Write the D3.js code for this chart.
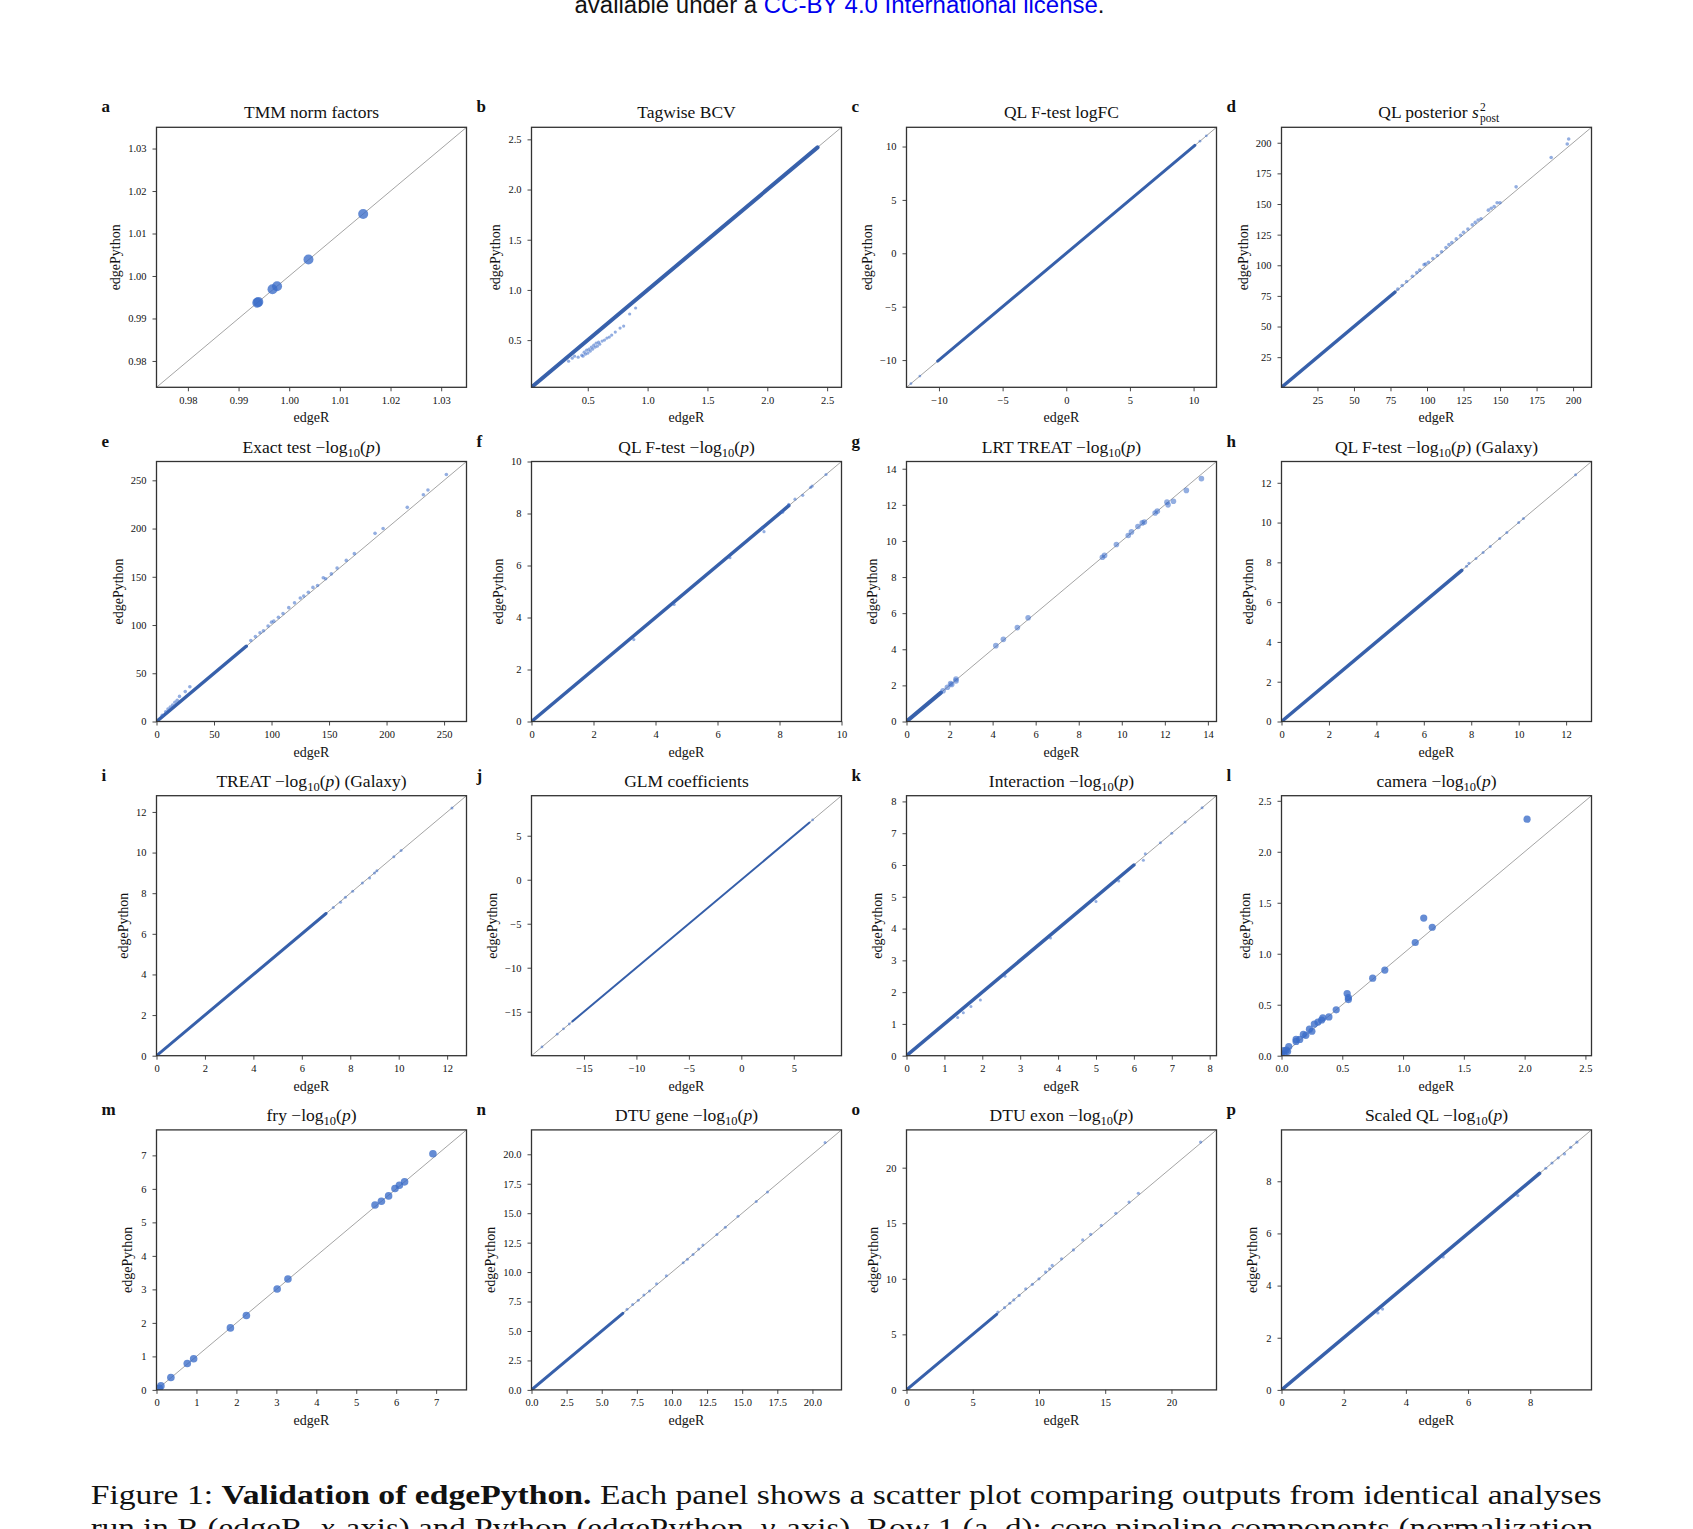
<!DOCTYPE html>
<html>
<head>
<meta charset="utf-8">
<script src="https://cdn.jsdelivr.net/npm/d3@7"></script>
<style>
  body { margin: 0; background: #fff; }
  svg text { font-family: "Liberation Serif", "DejaVu Serif", serif; fill: #111; }
</style>
</head>
<body>
<div id="fig"></div>
<script>
// --- DONNÉES ---
const panelLetters = "abcdefghijklmnop".split("");

const panelTitles = [
  "TMM norm factors", "Tagwise BCV", "QL F-test logFC", "QL posterior s_post^2",
  "Exact test −log10(p)", "QL F-test −log10(p)", "LRT TREAT −log10(p)", "QL F-test −log10(p) (Galaxy)",
  "TREAT −log10(p) (Galaxy)", "GLM coefficients", "Interaction −log10(p)", "camera −log10(p)",
  "fry −log10(p)", "DTU gene −log10(p)", "DTU exon −log10(p)", "Scaled QL −log10(p)"
];

// même domaine pour x et y (diagonale coin à coin)
const axisDomains = [
  [0.9738, 1.0350], [0.03, 2.62], [-12.55, 11.8], [0.4, 212.6],
  [0, 269.5], [0, 10], [0, 14.4], [0, 13.07],
  [0, 12.8], [-20, 9.55], [0, 8.18], [0, 2.55],
  [0, 7.76], [0, 22.07], [0, 23.4], [0, 9.97]
];

const axisTicks = [
  [0.98, 0.99, 1.00, 1.01, 1.02, 1.03],
  [0.5, 1.0, 1.5, 2.0, 2.5],
  [-10, -5, 0, 5, 10],
  [25, 50, 75, 100, 125, 150, 175, 200],
  [0, 50, 100, 150, 200, 250],
  [0, 2, 4, 6, 8, 10],
  [0, 2, 4, 6, 8, 10, 12, 14],
  [0, 2, 4, 6, 8, 10, 12],
  [0, 2, 4, 6, 8, 10, 12],
  [-15, -10, -5, 0, 5],
  [0, 1, 2, 3, 4, 5, 6, 7, 8],
  [0.0, 0.5, 1.0, 1.5, 2.0, 2.5],
  [0, 1, 2, 3, 4, 5, 6, 7],
  [0.0, 2.5, 5.0, 7.5, 10.0, 12.5, 15.0, 17.5, 20.0],
  [0, 5, 10, 15, 20],
  [0, 2, 4, 6, 8]
];

const tickFormats = [".2f", ".1f", "d", "d", "d", "d", "d", "d", "d", "d", "d", ".1f", "d", ".1f", "d", "d"];

// nuage dense le long de y = x : [début, fin] (null = pas de nuage)
const denseBands = [
  null, [0.04, 2.42], [-10.1, 10.1], [0.5, 78],
  [0, 78], [0, 8.3], [0, 1.6], [0, 7.6],
  [0, 7.0], [-16.1, 6.5], [0, 6.0], null,
  null, [0, 6.5], [0, 6.8], [0, 8.3]
];

// points isolés [edgeR, edgePython]
const ptsA = [[0.9937, 0.9937], [0.9939, 0.9939], [0.9967, 0.9969], [0.9976, 0.9976], [1.0038, 1.0039], [1.0146, 1.0146]];
const ptsB = [[0.34, 0.29], [0.37, 0.32], [0.39, 0.34], [0.42, 0.33], [0.45, 0.35], [0.46, 0.34], [0.47, 0.38],
  [0.48, 0.36], [0.49, 0.40], [0.50, 0.37], [0.51, 0.41], [0.52, 0.39], [0.53, 0.43], [0.54, 0.41],
  [0.55, 0.45], [0.56, 0.43], [0.57, 0.47], [0.58, 0.44], [0.59, 0.48], [0.60, 0.46], [0.62, 0.49],
  [0.64, 0.50], [0.66, 0.52], [0.68, 0.53], [0.70, 0.55], [0.73, 0.58], [0.77, 0.62], [0.80, 0.64],
  [0.85, 0.76], [0.90, 0.82]];
const ptsC = [[-12.2, -12.2], [-11.5, -11.5], [10.5, 10.5], [11.0, 11.0]];
const ptsD = [[80, 80.5], [83, 83.5], [86, 86.8], [90, 91], [93, 94], [95, 96], [98, 100.5], [99, 101],
  [101, 102.5], [104, 105.5], [107, 108], [110, 111], [113, 114.5], [115, 117], [117, 118.5], [120, 121.5],
  [123, 124.5], [125, 127], [128, 129.5], [131, 133], [133, 135], [135, 137], [137, 138], [142, 145],
  [144, 146.5], [146, 148], [148, 151], [150, 151], [161, 164], [185, 188], [196, 199], [197, 203]];
const ptsE = [[5, 6.5], [8, 10], [10, 13], [12, 15], [14, 17], [16, 20], [18, 22], [20, 26], [25, 31], [29, 36],
  [82, 84], [86, 88], [90, 92], [93, 94], [97, 99], [100, 103], [102, 104], [106, 108], [110, 112],
  [115, 118], [120, 123], [125, 128], [128, 130], [132, 134], [136, 139], [140, 141], [145, 149],
  [147, 148], [152, 153], [157, 159], [165, 167], [172, 174], [190, 195], [197, 200], [218, 222],
  [232, 235], [236, 240], [252, 256]];
const ptsF = [[3.3, 3.15], [4.6, 4.5], [6.4, 6.3], [7.5, 7.3], [7.45, 7.45], [8.1, 8.05], [8.3, 8.35],
  [8.5, 8.55], [8.75, 8.7], [9.0, 9.0], [9.05, 9.05], [9.5, 9.5]];
const ptsG = [[1.7, 1.7], [1.9, 1.9], [2.05, 2.1], [2.1, 2.05], [2.3, 2.35], [2.3, 2.25], [4.15, 4.2],
  [4.5, 4.55], [5.15, 5.2], [5.65, 5.75], [9.1, 9.1], [9.2, 9.2], [9.75, 9.8], [10.3, 10.3],
  [10.45, 10.5], [10.75, 10.8], [10.95, 11.0], [11.05, 11.05], [11.55, 11.55], [11.65, 11.65],
  [12.1, 12.15], [12.15, 12.0], [12.4, 12.2], [13.0, 12.8], [13.7, 13.45]];
const ptsH = [[7.8, 7.8], [7.9, 7.95], [8.2, 8.2], [8.5, 8.5], [8.8, 8.8], [9.2, 9.2], [9.5, 9.5],
  [10.0, 10.0], [10.2, 10.2], [12.4, 12.4]];
const ptsI = [[7.3, 7.3], [7.6, 7.55], [7.8, 7.8], [8.1, 8.1], [8.5, 8.5], [8.8, 8.75], [9.0, 9.0],
  [9.1, 9.1], [9.8, 9.8], [10.1, 10.1], [12.2, 12.2]];
const ptsJ = [[-16.4, -16.4], [-16.95, -16.95], [-17.55, -17.55], [-19.0, -19.0], [6.8, 6.8]];
const ptsK = [[1.35, 1.2], [1.5, 1.35], [1.7, 1.55], [1.95, 1.75], [2.6, 2.5], [3.8, 3.7], [5.0, 4.85],
  [5.6, 5.5], [6.25, 6.15], [6.3, 6.35], [6.7, 6.7], [7.0, 7.0], [7.35, 7.35], [7.8, 7.8]];
const ptsL = [[2.02, 2.32], [1.17, 1.35], [1.24, 1.26], [1.10, 1.11], [0.85, 0.84], [0.75, 0.76],
  [0.54, 0.61], [0.55, 0.57], [0.55, 0.55], [0.45, 0.45], [0.39, 0.38], [0.34, 0.37], [0.33, 0.35],
  [0.30, 0.33], [0.27, 0.31], [0.25, 0.24], [0.23, 0.26], [0.20, 0.20], [0.18, 0.21], [0.15, 0.16],
  [0.12, 0.16], [0.12, 0.14], [0.06, 0.09], [0.05, 0.04], [0.04, 0.055], [0.02, 0.05], [0.02, 0.01], [0.0, 0.02]];
const ptsM = [[6.92, 7.05], [6.21, 6.21], [6.08, 6.11], [5.97, 6.01], [5.81, 5.79], [5.63, 5.63],
  [5.47, 5.52], [3.29, 3.31], [3.02, 3.01], [2.25, 2.22], [1.85, 1.85], [0.93, 0.93], [0.77, 0.79],
  [0.36, 0.37], [0.11, 0.12], [0.07, 0.05]];
const ptsN = [[6.8, 6.85], [7.2, 7.25], [7.6, 7.6], [8.0, 8.05], [8.4, 8.4], [8.9, 9.0], [9.6, 9.7],
  [10.8, 10.8], [11.1, 11.1], [11.5, 11.5], [11.9, 11.95], [12.2, 12.3], [13.2, 13.2], [13.8, 13.8],
  [14.7, 14.75], [16.0, 16.0], [16.8, 16.8], [20.9, 21.0]];
const ptsO = [[6.9, 7.0], [7.4, 7.4], [7.8, 7.8], [8.1, 8.1], [8.5, 8.5], [9.0, 9.1], [9.5, 9.5],
  [10.0, 10.0], [10.5, 10.6], [10.8, 10.9], [11.0, 11.2], [11.7, 11.8], [12.6, 12.6], [13.3, 13.5],
  [13.9, 14.0], [14.7, 14.8], [15.8, 15.9], [16.8, 16.9], [17.5, 17.7], [22.2, 22.3]];
const ptsP = [[3.1, 2.95], [3.25, 3.1], [5.2, 5.1], [7.6, 7.45], [8.5, 8.5], [8.7, 8.7], [8.9, 8.9],
  [9.1, 9.05], [9.3, 9.3], [9.5, 9.5]];

const panelPoints = [ptsA, ptsB, ptsC, ptsD, ptsE, ptsF, ptsG, ptsH, ptsI, ptsJ, ptsK, ptsL, ptsM, ptsN, ptsO, ptsP];

// --- STYLE / MISE EN PAGE ---
const largeur = 1693, hauteur = 1529;
const x0 = 156.5, pasX = 375, y0 = 127.3, pasY = 334.2;
const pw = 310, ph = 260;
const bandWidths = [0, 4, 3, 3.5, 3.5, 3.5, 4, 3.5, 3, 2, 3.5, 0, 0, 3, 3, 3.5];
const pointRadii = [5, 1.6, 1.4, 1.8, 1.8, 1.6, 2.8, 1.5, 1.5, 1.4, 1.5, 3.6, 3.8, 1.5, 1.6, 1.6];
const bleu = "#3a6cc8", bleuDense = "#2f5aa8";

const svg = d3.select("#fig").append("svg")
  .attr("width", largeur)
  .attr("height", hauteur);

// en-tête coupé en haut (comme sur l'original)
const head = svg.append("text")
  .attr("x", 574.5).attr("y", 13)
  .attr("textLength", 530).attr("lengthAdjust", "spacingAndGlyphs")
  .style("font-family", "'Liberation Sans', Arial, sans-serif")
  .style("font-size", "23px");
head.append("tspan").text("available under a ");
head.append("tspan").style("fill", "#0000ee").text("CC-BY 4.0 International license");
head.append("tspan").text(".");

// titre avec −log10(p) en indice / italique
function ecrireTitre(sel, titre) {
  if (titre.includes("s_post^2")) {
    sel.append("tspan").text("QL posterior ");
    sel.append("tspan").style("font-style", "italic").text("s");
    return "post";
  }
  const morceaux = titre.split("−log10(p)");
  sel.append("tspan").text(morceaux[0]);
  if (morceaux.length > 1) {
    sel.append("tspan").text("−log");
    sel.append("tspan").attr("dy", 4).style("font-size", "12.5px").text("10");
    sel.append("tspan").attr("dy", -4).text("(");
    sel.append("tspan").style("font-style", "italic").text("p");
    sel.append("tspan").text(")" + morceaux[1]);
  }
  return null;
}

panelLetters.forEach((lettre, i) => {
  const col = i % 4, lig = Math.floor(i / 4);
  const left = x0 + col * pasX, top = y0 + lig * pasY;
  const dom = axisDomains[i];

  const x = d3.scaleLinear().domain(dom).range([left, left + pw]);
  const y = d3.scaleLinear().domain(dom).range([top + ph, top]);

  const g = svg.append("g");

  g.append("clipPath").attr("id", "clip" + i)
    .append("rect").attr("x", left).attr("y", top).attr("width", pw).attr("height", ph);

  const zone = g.append("g").attr("clip-path", `url(#clip${i})`);

  // diagonale y = x
  zone.append("line")
    .attr("x1", x(dom[0])).attr("y1", y(dom[0]))
    .attr("x2", x(dom[1])).attr("y2", y(dom[1]))
    .attr("stroke", "#9a9a9a").attr("stroke-width", 0.9);

  // nuage dense
  const band = denseBands[i];
  if (band) {
    zone.append("line")
      .attr("x1", x(band[0])).attr("y1", y(band[0]))
      .attr("x2", x(band[1])).attr("y2", y(band[1]))
      .attr("stroke", bleuDense).attr("stroke-width", bandWidths[i])
      .attr("stroke-linecap", "round").attr("opacity", 0.95);
  }

  // points
  zone.selectAll("circle")
    .data(panelPoints[i])
    .join("circle")
    .attr("cx", d => x(d[0]))
    .attr("cy", d => y(d[1]))
    .attr("r", pointRadii[i])
    .attr("fill", bleu)
    .attr("fill-opacity", pointRadii[i] > 3 ? 0.78 : 0.55);

  // axes
  const fmt = d3.format(tickFormats[i]);
  const ax = g.append("g").attr("transform", `translate(0,${top + ph})`)
    .call(d3.axisBottom(x).tickValues(axisTicks[i]).tickFormat(fmt).tickSize(4).tickPadding(5));
  const ay = g.append("g").attr("transform", `translate(${left},0)`)
    .call(d3.axisLeft(y).tickValues(axisTicks[i]).tickFormat(fmt).tickSize(4).tickPadding(6));
  [ax, ay].forEach(a => {
    a.select(".domain").remove();
    a.selectAll("line").attr("stroke", "#333").attr("stroke-width", 0.9);
    a.selectAll("text")
      .style("font-family", "'Liberation Serif', 'DejaVu Serif', serif")
      .style("font-size", "10.5px").attr("fill", "#222");
  });

  // cadre
  g.append("rect")
    .attr("x", left).attr("y", top).attr("width", pw).attr("height", ph)
    .attr("fill", "none").attr("stroke", "#333").attr("stroke-width", 1.3);

  // libellés des axes
  g.append("text")
    .attr("x", left + pw / 2).attr("y", top + ph + 35)
    .attr("text-anchor", "middle").style("font-size", "14px")
    .text("edgeR");

  const largeurMax = d3.max(ay.selectAll("text").nodes(), n => n.getBBox().width);
  const cx = left - 10 - largeurMax - 13;
  g.append("text")
    .attr("transform", `translate(${cx},${top + ph / 2}) rotate(-90)`)
    .attr("dy", "0.35em")
    .attr("text-anchor", "middle").style("font-size", "14px")
    .text("edgePython");

  // lettre du panneau
  g.append("text")
    .attr("x", left - 55).attr("y", top - 15)
    .style("font-size", "17px").style("font-weight", "bold")
    .text(lettre);

  // titre
  const t = g.append("text")
    .attr("x", left + pw / 2).attr("y", top - 9)
    .attr("text-anchor", "middle").style("font-size", "17.5px");
  const special = ecrireTitre(t, panelTitles[i]);
  if (special) {
    const bb = t.node().getBBox();
    const xEnd = bb.x + bb.width + 1;
    g.append("text").attr("x", xEnd).attr("y", top - 16).style("font-size", "11.5px").text("2");
    g.append("text").attr("x", xEnd).attr("y", top - 5).style("font-size", "11.5px").text("post");
    t.attr("transform", "translate(-8,0)");
    g.selectAll("text").filter(function () { return this.textContent === "2" || this.textContent === "post"; })
      .attr("transform", "translate(-8,0)");
  }
});

// légende de la figure (bas, coupée comme l'original)
const cap1 = svg.append("text")
  .attr("x", 90.7).attr("y", 1504)
  .attr("textLength", 1511).attr("lengthAdjust", "spacingAndGlyphs")
  .style("font-size", "28px");
cap1.append("tspan").text("Figure 1: ");
cap1.append("tspan").style("font-weight", "bold").text("Validation of edgePython.");
cap1.append("tspan").text(" Each panel shows a scatter plot comparing outputs from identical analyses");

const cap2 = svg.append("text")
  .attr("x", 90.7).attr("y", 1537)
  .attr("textLength", 1511).attr("lengthAdjust", "spacingAndGlyphs")
  .style("font-size", "28px");
cap2.append("tspan").text("run in R (edgeR, ");
cap2.append("tspan").style("font-style", "italic").text("x");
cap2.append("tspan").text("-axis) and Python (edgePython, ");
cap2.append("tspan").style("font-style", "italic").text("y");
cap2.append("tspan").text("-axis). Row 1 (a–d): core pipeline components (normalization,");
</script>
</body>
</html>
